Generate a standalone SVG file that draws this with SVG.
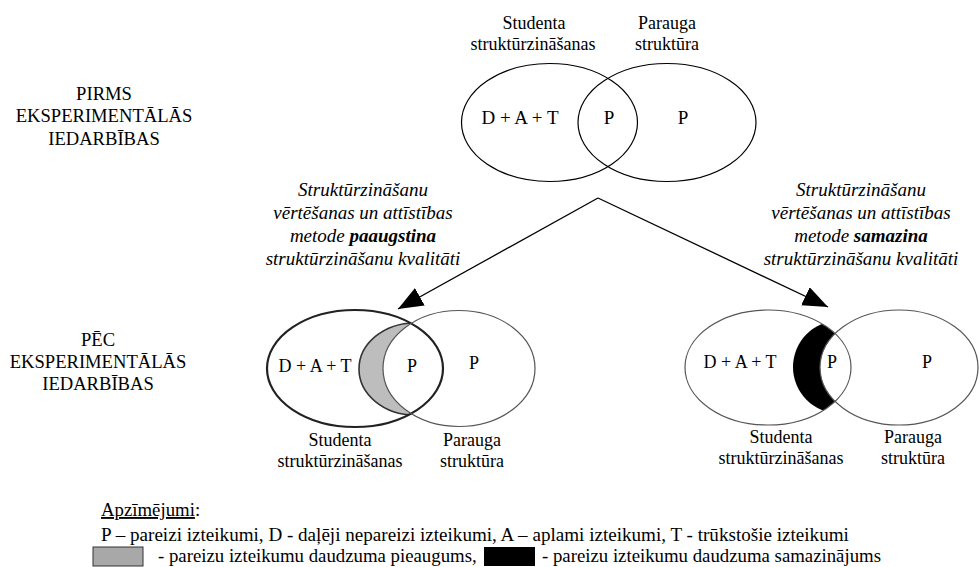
<svg xmlns="http://www.w3.org/2000/svg" width="979" height="567" viewBox="0 0 979 567" font-family="'Liberation Serif', 'Times New Roman', Times, serif">
  <style>
    text { font-family: "Liberation Serif", "Times New Roman", Times, serif; fill: #000; }
    .lbl { font-size: 18px; text-anchor: middle; }
    .big { font-size: 19px; text-anchor: middle; }
    .stage { font-size: 18.6px; text-anchor: middle; }
    .note { font-size: 19px; font-style: italic; text-anchor: middle; }
    .leg { font-size: 18.8px; }
    .leg-wide { font-size: 19.1px; }
    .thin { fill: none; stroke: #000; stroke-width: 1.2; }
    .soft { fill: none; stroke: #555; stroke-width: 1.2; }
    .bold { fill: none; stroke: #222; stroke-width: 2.2; }
    .conn { fill: none; stroke: #000; stroke-width: 1.3; }
  </style>
  <defs>
    <marker id="head" markerUnits="userSpaceOnUse" markerWidth="28" markerHeight="22" refX="25" refY="10" orient="auto">
      <path d="M0,0 L25,10 L0,20 Z" fill="#000"/>
    </marker>
    <clipPath id="clipLeftA"><ellipse cx="355" cy="368.5" rx="88" ry="58.5"/></clipPath>
    <mask id="maskRightA" maskUnits="userSpaceOnUse" x="0" y="0" width="979" height="567">
      <rect x="0" y="0" width="979" height="567" fill="#fff"/>
      <ellipse cx="459" cy="368.5" rx="76" ry="58" fill="#000"/>
    </mask>
    <clipPath id="clipLeftB"><ellipse cx="768" cy="367.5" rx="83" ry="57.5"/></clipPath>
    <mask id="maskRightB" maskUnits="userSpaceOnUse" x="0" y="0" width="979" height="567">
      <rect x="0" y="0" width="979" height="567" fill="#fff"/>
      <ellipse cx="899" cy="367.5" rx="79" ry="57.5" fill="#000"/>
    </mask>
  </defs>

  <!-- stage labels -->
  <g id="stage-before">
    <text class="stage" x="104" y="100">PIRMS</text>
    <text class="stage" x="104" y="122">EKSPERIMENTĀLĀS</text>
    <text class="stage" x="104" y="145">IEDARBĪBAS</text>
  </g>
  <g id="stage-after">
    <text class="stage" x="98" y="346">PĒC</text>
    <text class="stage" x="98" y="368">EKSPERIMENTĀLĀS</text>
    <text class="stage" x="98" y="390">IEDARBĪBAS</text>
  </g>

  <!-- initial state -->
  <g id="venn-before">
    <ellipse class="thin" cx="549.5" cy="122.5" rx="88" ry="59"/>
    <ellipse class="thin" cx="667" cy="122.5" rx="89" ry="59"/>
    <text class="lbl" x="534" y="29">Studenta</text>
    <text class="lbl" x="533" y="50">struktūrzināšanas</text>
    <text class="lbl" x="667" y="29">Parauga</text>
    <text class="lbl" x="667" y="50">struktūra</text>
    <text class="big" x="520" y="124">D + A + T</text>
    <text class="big" x="609" y="124">P</text>
    <text class="big" x="683" y="124">P</text>
  </g>

  <!-- method raises quality -->
  <g id="note-raise">
    <text class="note" x="363" y="196">Struktūrzināšanu</text>
    <text class="note" x="363" y="219">vērtēšanas un attīstības</text>
    <text class="note" x="363" y="242">metode <tspan font-weight="bold">paaugstina</tspan></text>
    <text class="note" x="363" y="265">struktūrzināšanu kvalitāti</text>
  </g>

  <!-- method lowers quality -->
  <g id="note-lower">
    <text class="note" x="861" y="196">Struktūrzināšanu</text>
    <text class="note" x="861" y="219">vērtēšanas un attīstības</text>
    <text class="note" x="861" y="242">metode <tspan font-weight="bold">samazina</tspan></text>
    <text class="note" x="861" y="265">struktūrzināšanu kvalitāti</text>
  </g>

  <!-- outcome: growth of correct statements -->
  <g id="venn-growth">
    <g clip-path="url(#clipLeftA)" mask="url(#maskRightA)">
      <ellipse cx="415" cy="369" rx="56" ry="46" fill="#bdbdbd" stroke="#333" stroke-width="1.6"/>
    </g>
    <ellipse class="bold" cx="355" cy="368.5" rx="88" ry="58.5"/>
    <ellipse class="soft" cx="459" cy="368.5" rx="76" ry="58"/>
    <text class="lbl" x="315" y="372">D + A + T</text>
    <text class="lbl" x="412" y="372">P</text>
    <text class="lbl" x="474" y="369">P</text>
    <text class="lbl" x="340" y="446">Studenta</text>
    <text class="lbl" x="340" y="467">struktūrzināšanas</text>
    <text class="lbl" x="472" y="446">Parauga</text>
    <text class="lbl" x="472" y="467">struktūra</text>
  </g>

  <!-- outcome: loss of correct statements -->
  <g id="venn-loss">
    <g clip-path="url(#clipLeftB)" mask="url(#maskRightB)">
      <ellipse cx="838" cy="367" rx="45" ry="46" fill="#000"/>
    </g>
    <ellipse class="soft" cx="768" cy="367.5" rx="83" ry="57.5"/>
    <ellipse class="soft" cx="899" cy="367.5" rx="79" ry="57.5"/>
    <text class="lbl" x="740" y="368">D + A + T</text>
    <text class="lbl" x="832" y="368">P</text>
    <text class="lbl" x="927" y="368">P</text>
    <text class="lbl" x="781" y="443">Studenta</text>
    <text class="lbl" x="781" y="464">struktūrzināšanas</text>
    <text class="lbl" x="913" y="443">Parauga</text>
    <text class="lbl" x="913" y="464">struktūra</text>
  </g>

  <!-- connectors -->
  <g id="connectors">
    <path class="conn" d="M598,198 L398,309" marker-end="url(#head)"/>
    <path class="conn" d="M598,198 L828,307" marker-end="url(#head)"/>
  </g>

  <!-- legend -->
  <g id="legend">
    <text class="leg" x="101" y="516"><tspan text-decoration="underline">Apzīmējumi</tspan>:</text>
    <text class="leg-wide" x="101" y="541">P – pareizi izteikumi, D - daļēji nepareizi izteikumi, A – aplami izteikumi, T - trūkstošie izteikumi</text>
    <rect x="93" y="547" width="50" height="19" fill="#a8a8a8" stroke="#333" stroke-width="1"/>
    <text class="leg" x="158" y="562">- pareizu izteikumu daudzuma pieaugums,</text>
    <rect x="484" y="547" width="51" height="19" fill="#000"/>
    <text class="leg" x="542" y="562">- pareizu izteikumu daudzuma samazinājums</text>
  </g>
</svg>
